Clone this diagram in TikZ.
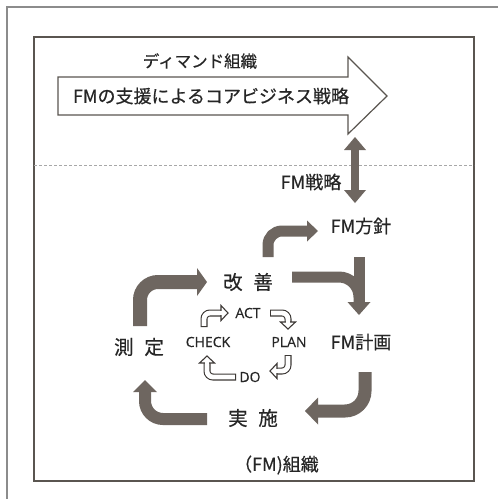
\documentclass[tikz,border=0pt]{standalone}
\usepackage{fontspec}
\newfontfamily\jp[FakeBold=0.5]{Noto Sans CJK JP}
\newfontfamily\lat[FakeBold=0.4]{Open Sans}
\usetikzlibrary{arrows.meta,calc}
\definecolor{framec}{HTML}{5A5550}
\definecolor{outerc}{HTML}{8C8C8C}
\definecolor{dashc}{HTML}{A8A8A8}
\definecolor{arrc}{HTML}{6E6660}
\definecolor{txtc}{HTML}{262626}
\definecolor{pdcc}{HTML}{3C3835}
\begin{document}
\begin{tikzpicture}[x=1pt,y=-1pt,
  jplabel/.style={text=txtc, inner sep=0pt, font=\jp\fontsize{18}{21}\selectfont},
  biglabel/.style={text=txtc, inner sep=0pt, font=\jp\fontsize{19.5}{22}\selectfont},
  pdcalabel/.style={text=txtc, inner sep=0pt, font=\lat\fontsize{14}{16}\selectfont},
  bigarr/.style={draw=arrc, line width=12pt, line cap=butt},
  bigtip/.style={-{Triangle[width=#1,length=11pt,line width=0pt]}},
  pout/.style={draw=pdcc, line width=7pt, rounded corners=6pt},
  pin/.style={draw=white, line width=4.8pt, rounded corners=6pt},
  phead/.style={draw=pdcc, fill=white, line width=1.1pt, line join=miter}]
\useasboundingbox (0,0) rectangle (498,499);
\fill[white] (0,0) rectangle (498,499);
% outer frame (top and left edges visible)
\draw[outerc, line width=1.5pt] (7,499) -- (7,7) -- (498,7);
% inner frame
\draw[framec, line width=1.2pt] (34,37) rectangle (474,481);
% dashed divider
\draw[dashc, line width=0.8pt, dash pattern=on 3pt off 2pt] (34,165) -- (474,165);
% big hollow arrow
\draw[framec, fill=white, line width=1.2pt, line join=miter]
  (58,77) -- (348,77) -- (348,57) -- (387,96) -- (348,134) -- (348,115) -- (58,115) -- cycle;
\node[jplabel, font=\jp\fontsize{16.5}{19}\selectfont] (demand) at (200,61) {ディマンド組織};
\node[jplabel, font=\jp\fontsize{18}{21}\selectfont] (core) at (211,96) {FMの支援によるコアビジネス戦略};
% labels
\node[jplabel] (strat) at (311,182) {FM戦略};
\node[jplabel] (policy) at (361,226) {FM方針};
\node[jplabel] (plan) at (361,342) {FM計画};
\node[biglabel] (kaizen) at (248,282) {改\hspace{0.55em}善};
\node[biglabel] (sokutei) at (139,347) {測\hspace{0.55em}定};
\node[biglabel] (jisshi) at (253,418) {実\hspace{0.55em}施};
\node[jplabel, anchor=east] (org) at (319,465) {（FM)組織};
% connector coordinates
\coordinate (dtop) at (355,137);
\coordinate (dbot) at (355,203);
\coordinate (k2ps) at (268,257);
\coordinate (k2pt) at (318,231);
\coordinate (p2ps) at (359,257);
\coordinate (p2pt) at (359,315);
\coordinate (k2ls) at (292,277);
\coordinate (k2le) at (359,302);
\coordinate (l2js) at (365,372);
\coordinate (l2jt) at (305,411);
\coordinate (j2ss) at (207,419);
\coordinate (j2st) at (145,380);
\coordinate (s2ks) at (140,326);
\coordinate (s2kt) at (207,282);
% double arrow strategy <-> FM strategy
\draw[draw=arrc, line width=8pt,
  {Triangle[width=22pt,length=13pt,line width=0pt]}-{Triangle[width=22pt,length=13pt,line width=0pt]}]
  (dtop) -- (dbot);
% big grey cycle arrows
\draw[bigarr, line width=11pt, bigtip=21pt, rounded corners=14pt] (k2ps) |- (k2pt);
\draw[bigarr, line width=11pt, rounded corners=20pt] (k2ls) -| (k2le);
\draw[bigarr, line width=11pt, -{Triangle[width=23pt,length=13pt,line width=0pt]}] (p2ps) -- (p2pt);
\draw[bigarr, line width=13pt, -{Triangle[width=27pt,length=13pt,line width=0pt]}, rounded corners=20pt] (l2js) |- (l2jt);
\draw[bigarr, line width=12pt, -{Triangle[width=24pt,length=12pt,line width=0pt]}, rounded corners=18pt] (j2ss) -| (j2st);
\draw[bigarr, line width=14pt, -{Triangle[width=28pt,length=10pt,line width=0pt]}, rounded corners=18pt] (s2ks) |- (s2kt);
% PDCA labels
\node[pdcalabel] (act) at (248,313) {ACT};
\node[pdcalabel] (plansm) at (289,342) {PLAN};
\node[pdcalabel] (check) at (208,342) {CHECK};
\node[pdcalabel] (do) at (250,377) {DO};
% PDCA outlined arrows
% CHECK -> ACT
\coordinate (a1s) at (204,327); \coordinate (a1t) at (228,313);
\draw[pout] (a1s) |- ([xshift=-7pt]a1t);
\draw[pin] ([yshift=1.1pt]a1s) |- ([xshift=-7pt]a1t);
\draw[phead] (a1t) -- ++(-7,-7.5) -- ++(0,15) -- cycle;
\draw[pin] ([xshift=-8.6pt]a1t) -- ([xshift=-5.9pt]a1t);
% ACT -> PLAN
\coordinate (a2s) at (270,313); \coordinate (a2t) at (288,329);
\draw[pout] (a2s) -| ([yshift=7pt]a2t);
\draw[pin] ([xshift=1.1pt]a2s) -| ([yshift=7pt]a2t);
\draw[phead] (a2t) -- ++(-7.5,-7) -- ++(15,0) -- cycle;
\draw[pin] ([yshift=8.6pt]a2t) -- ([yshift=5.9pt]a2t);
% PLAN -> DO
\coordinate (a3s) at (288,355); \coordinate (a3t) at (270,371);
\draw[pout] (a3s) |- ([xshift=7pt]a3t);
\draw[pin] ([yshift=-1.1pt]a3s) |- ([xshift=7pt]a3t);
\draw[phead] (a3t) -- ++(7,-7.5) -- ++(0,15) -- cycle;
\draw[pin] ([xshift=8.6pt]a3t) -- ([xshift=5.9pt]a3t);
% DO -> CHECK
\coordinate (a4s) at (236,377); \coordinate (a4t) at (207,356);
\draw[pout] (a4s) -| ([yshift=-7pt]a4t);
\draw[pin] ([xshift=-1.1pt]a4s) -| ([yshift=-7pt]a4t);
\draw[phead] (a4t) -- ++(-7.5,7) -- ++(15,0) -- cycle;
\draw[pin] ([yshift=-8.6pt]a4t) -- ([yshift=-5.9pt]a4t);
\end{tikzpicture}
\end{document}
